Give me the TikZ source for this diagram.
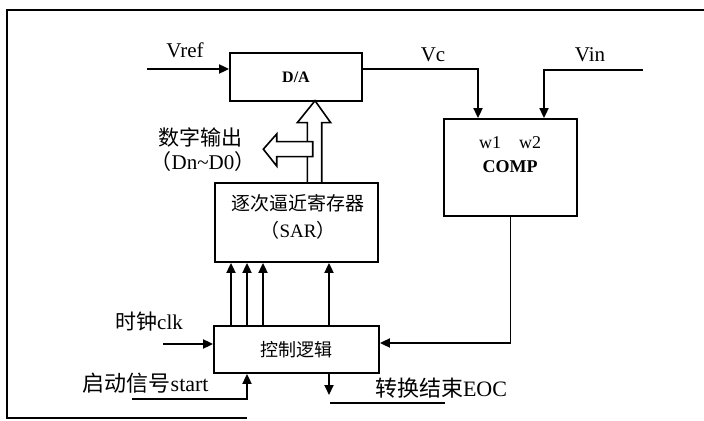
\documentclass[tikz,border=0pt]{standalone}
\usepackage{fontspec}
\setmainfont{Liberation Serif}
\newfontfamily\cjk{Noto Sans CJK SC}
\usetikzlibrary{positioning,arrows.meta,calc}

\begin{document}
\begin{tikzpicture}[x=0.5pt,y=-0.5pt,
    blk/.style={draw, line width=0.9pt, inner sep=0pt},
    sig/.style={line width=0.9pt, -{Triangle[length=5pt,width=4.5pt]}},
    wire/.style={line width=0.9pt},
    lbl/.style={font=\fontsize{10.5}{12}\selectfont, inner sep=1pt}]
    \useasboundingbox (0,0) rectangle (704,421);
    % frame
    \draw[line width=1pt] (704,10) -- (7,10) -- (7,418) -- (247,418);
    % blocks
    \node[blk, minimum width=66pt, minimum height=24pt,
      font=\bfseries\fontsize{8}{9}\selectfont] (da) at (296,77) {D/A};
    \node[blk, minimum width=66.5pt, minimum height=48.5pt] (cmp) at (510.5,167.5) {};
    \node[blk, minimum width=81.5pt, minimum height=39.5pt] (sar) at (296.5,222.5) {};
    \node[blk, minimum width=82.5pt, minimum height=23.5pt,
      font=\cjk\fontsize{9}{10}\selectfont] (ctrl) at (296.5,349.5) {控制逻辑};
    \node[font=\fontsize{9}{10}\selectfont] (w1) at (490,143) {w1};
    \node[font=\fontsize{9}{10}\selectfont] (w2) at (530,143) {w2};
    \node[font=\bfseries\fontsize{9}{10}\selectfont] (cmpname) at (510,167) {COMP};
    \node[font=\fontsize{9.5}{13.5}\selectfont, align=center] (sartxt) at (298,216.5)
      {{\cjk 逐次逼近寄存器}\\{\cjk （}SAR{\cjk ）}};
    % signal labels
    \node[lbl] (vref) at (185,50) {Vref};
    \node[lbl] (vc) at (433,55) {Vc};
    \node[lbl] (vin) at (590,55) {Vin};
    \node[lbl] (dout) at (200,137) {\cjk 数字输出};
    \node[lbl] (dbits) at (203,162) {{\cjk （}Dn\textasciitilde D0{\cjk ）}};
    \node[lbl] (clk) at (149,322) {{\cjk 时钟}clk};
    \node[lbl, anchor=east, font=\fontsize{11}{12}\selectfont] (start) at (211,383)
      {{\cjk 启动信号}start};
    \node[lbl, font=\fontsize{11}{12}\selectfont] (eoc) at (441,388) {{\cjk 转换结束}EOC};
    % connectors
    \coordinate (vrefin) at (147,69);
    \coordinate (vcbend) at (478,69);
    \coordinate (vinin) at (643,70);
    \coordinate (vinbend) at (544,70);
    \coordinate (fbk) at (510.5,343);
    \coordinate (clkin) at (163,344);
    \coordinate (stin) at (132,399);
    \coordinate (stbend) at (247,399);
    \coordinate (eocx) at (329,395);
    \coordinate (eocl) at (330,403);
    \coordinate (eocr) at (445,403);
    \draw[sig] (vrefin) -- (da.west |- vrefin);
    \draw[sig] (da.east |- vcbend) -- (vcbend) -- (vcbend |- cmp.north);
    \draw[sig] (vinin) -- (vinbend) -- (vinbend |- cmp.north);
    \draw[sig] (cmp.south) -- (fbk) -- (ctrl.east |- fbk);
    \draw[sig] (clkin) -- (ctrl.west |- clkin);
    \draw[sig] (stin) -- (stbend) -- (stbend |- ctrl.south);
    \draw[sig] (ctrl.south -| eocx) -- (eocx);
    \draw[wire] (eocl) -- (eocr);
    \foreach \xx in {231,247,263,329}
      \draw[sig] (ctrl.north -| \xx,0) -- (sar.south -| \xx,0);
    % bus arrows
    \draw[wire, line width=0.8pt] (307.3,183) -- (307.3,122.7) -- (297.3,122.7)
      -- (315,100.7) -- (330.7,122.7) -- (321.7,122.7) -- (321.7,183);
    \draw[wire, line width=0.8pt, fill=white] (312.7,141.7) -- (276.7,141.7) -- (276.7,134)
      -- (263.3,149.2) -- (276.7,166) -- (276.7,156.7) -- (312.7,156.7) -- cycle;
\end{tikzpicture}
\end{document}
